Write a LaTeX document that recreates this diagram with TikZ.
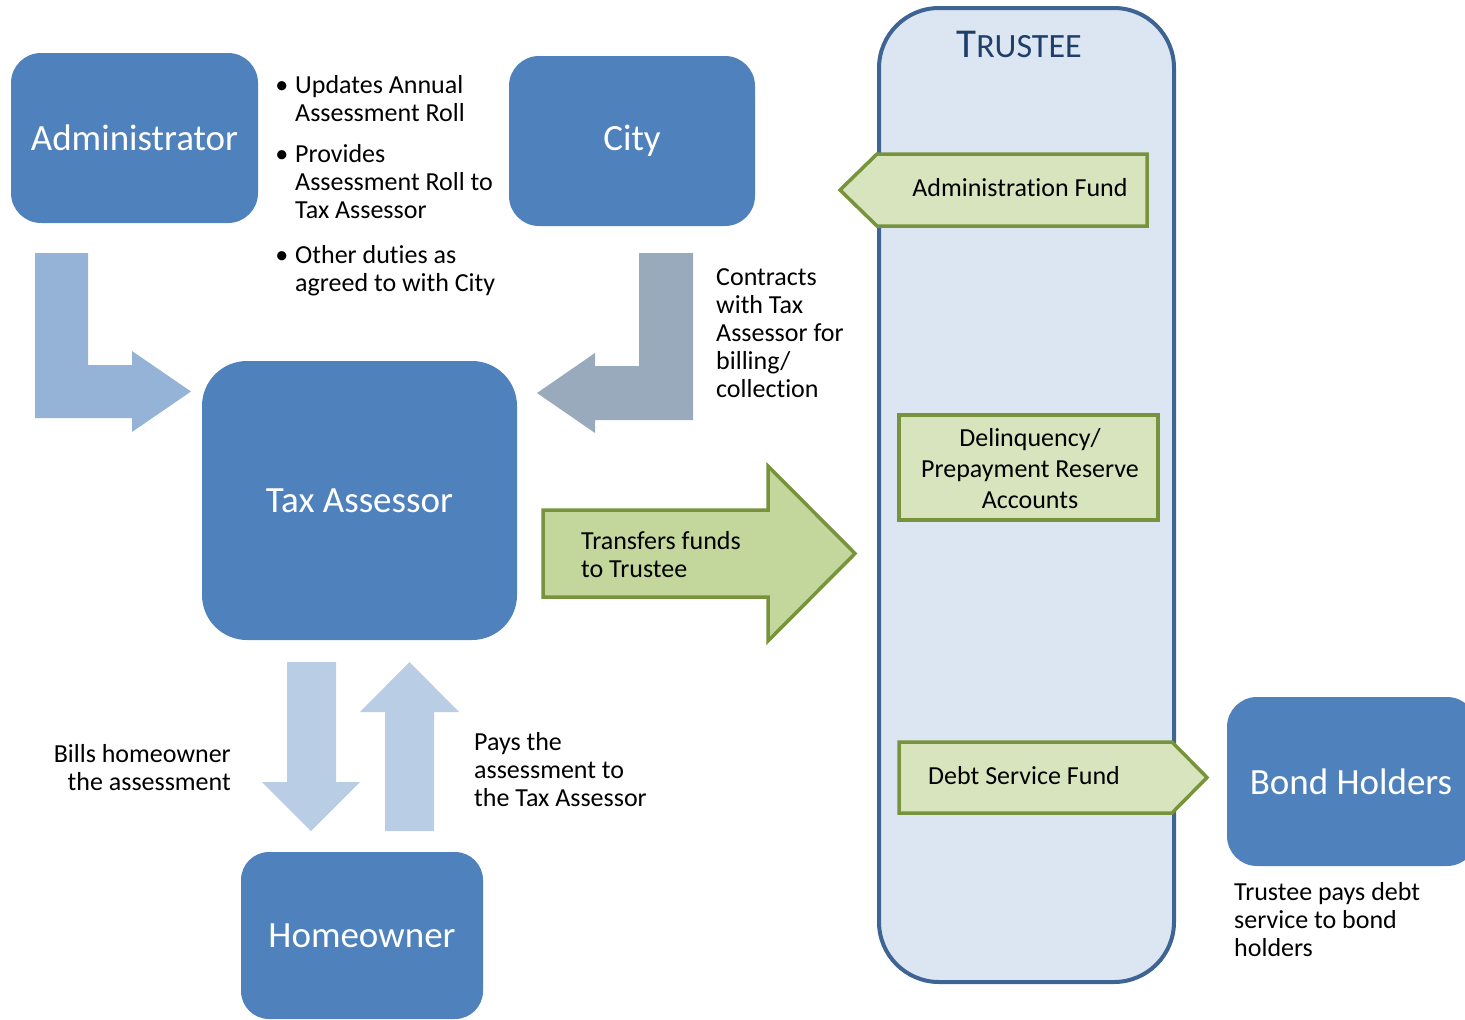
\documentclass[tikz,border=0pt]{standalone}
\usepackage{fontspec}
\setmainfont{Carlito}[Ligatures=NoCommon]
\definecolor{boxblue}{HTML}{4F81BD}
\definecolor{admarrow}{HTML}{95B3D7}
\definecolor{cityarrow}{HTML}{9AAABD}
\definecolor{lightarrow}{HTML}{B9CDE5}
\definecolor{trfill}{HTML}{DCE6F2}
\definecolor{trline}{HTML}{3E6493}
\definecolor{trtext}{HTML}{1F3F6B}
\definecolor{gfill}{HTML}{D7E4BD}
\definecolor{gfill2}{HTML}{C3D69B}
\definecolor{gline}{HTML}{77933C}
\tikzset{
  bigbox/.style={fill=boxblue, rounded corners=30pt, text=white, inner sep=0pt,
    font=\fontsize{37}{44}\selectfont},
  fundshape/.style={fill=gfill, draw=gline, line width=3.5pt, line join=miter},
  small/.style={font=\fontsize{26}{28}\selectfont, inner sep=0pt, text=black},
}
\begin{document}
\begin{tikzpicture}[x=1pt,y=-1pt]
\useasboundingbox (0,0) rectangle (1465,1020);
% trustee container
\node[draw=trline, line width=4pt, fill=trfill, rounded corners=60pt,
  minimum width=295pt, minimum height=974pt, inner sep=0pt] (trustee) at (1026.5,495) {};
\node[text=trtext, inner sep=0pt, anchor=base] (trtitle) at (1019,57)
  {\fontsize{41}{48}\selectfont T\fontsize{34}{40}\selectfont RUSTEE};
% boxes
\node[bigbox, minimum width=247pt, minimum height=170pt] (admin) at (134.5,138) {Administrator};
\node[bigbox, minimum width=246pt, minimum height=170pt] (city) at (632,141) {City};
\node[bigbox, rounded corners=45pt, minimum width=315pt, minimum height=279pt] (tax) at (359.5,500.5) {Tax Assessor};
\node[bigbox, rounded corners=28pt, minimum width=242pt, minimum height=167pt] (home) at (362,935.5) {Homeowner};
\node[bigbox, minimum width=250pt, minimum height=169pt] (bond) at (1352,781.5) {\hspace{-2pt}Bond Holders};
% bent arrows
\fill[admarrow] (35,253) -- (88,253) -- (88,365) -- (132,365) -- (132,351) -- (191,391.5)
  -- (132,432) -- (132,418) -- (35,418) -- cycle;
\fill[cityarrow] (693,253) -- (639,253) -- (639,366) -- (595,366) -- (595,353) -- (537,393)
  -- (595,433) -- (595,420) -- (693,420) -- cycle;
% up/down arrows
\fill[lightarrow] (287,662) -- (336,662) -- (336,782) -- (360,782) -- (311,831) -- (262,782) -- (287,782) -- cycle;
\fill[lightarrow] (385,831) -- (434,831) -- (434,712) -- (459,712) -- (409.5,662) -- (360,712) -- (385,712) -- cycle;
% transfers arrow
\filldraw[fill=gfill2, draw=gline, line width=3.5pt, line join=miter]
  (543,510) -- (768,510) -- (768,466) -- (855,553.5) -- (768,641) -- (768,597) -- (543,597) -- cycle;
\node[small, anchor=base west, align=left] (transfers) at (581,577) {Transfers funds\\to Trustee};
% funds
\filldraw[fundshape] (1147,154) -- (877,154) -- (840,190) -- (877,226) -- (1147,226) -- cycle;
\node[small, anchor=base] (admfund) at (1020,196) {Administration Fund};
\node[fundshape, minimum width=259pt, minimum height=105pt, inner sep=0pt] (delinq) at (1028.5,467.5) {};
\node[small, font=\fontsize{26}{31}\selectfont, align=center] (delinqtxt) at (1030,469) {Delinquency/\\Prepayment Reserve\\Accounts};
\filldraw[fundshape] (899,742) -- (1172,742) -- (1207,777.5) -- (1172,813) -- (899,813) -- cycle;
\node[small, anchor=base west] (debt) at (928,784) {Debt Service Fund};
% text labels
\node[small, anchor=base west, align=left] (duties) at (295,291)
  {\llap{•\hspace{7pt}}Updates Annual\\Assessment Roll\\[13pt]
   \llap{•\hspace{7pt}}Provides\\Assessment Roll to\\Tax Assessor\\[17pt]
   \llap{•\hspace{7pt}}Other duties as\\agreed to with City};
\node[small, anchor=base west, align=left] (contracts) at (716,397)
  {Contracts\\with Tax\\Assessor for\\billing/\\collection};
\node[small, anchor=base east, align=right] (bills) at (231,790) {Bills homeowner\\the assessment};
\node[small, anchor=base west, align=left] (pays) at (474,806) {Pays the\\assessment to\\the Tax Assessor};
\node[small, anchor=base west, align=left] (trpays) at (1234,956) {Trustee pays debt\\service to bond\\holders};
\end{tikzpicture}
\end{document}
